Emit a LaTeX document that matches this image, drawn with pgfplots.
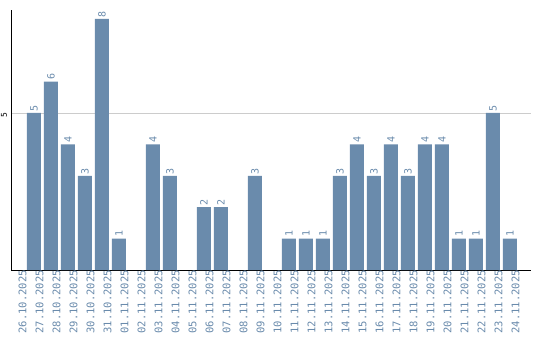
\documentclass[border=0pt]{standalone}
\usepackage{fontspec}
\setmainfont{DejaVu Sans Mono}
\usepackage{pgfplots}
\pgfplotsset{compat=1.18}
\definecolor{barc}{HTML}{6A8BAC}
\definecolor{gridc}{HTML}{CCCCCC}
\begin{document}
\begin{tikzpicture}
\useasboundingbox (-11bp,-70bp) rectangle (529bp,270bp);
\begin{axis}[
  scale only axis, width=520bp, height=260bp,
  anchor=south west, at={(0,0)},
  xmin=-0.35, xmax=30.24, ymin=0, ymax=8.28,
  axis x line=bottom, axis y line=left,
  axis line style={-, black, line width=0.8pt},
  xtick={0,...,29},
  xticklabels={26.10.2025,27.10.2025,28.10.2025,29.10.2025,30.10.2025,31.10.2025,01.11.2025,02.11.2025,03.11.2025,04.11.2025,05.11.2025,06.11.2025,07.11.2025,08.11.2025,09.11.2025,10.11.2025,11.11.2025,12.11.2025,13.11.2025,14.11.2025,15.11.2025,16.11.2025,17.11.2025,18.11.2025,19.11.2025,20.11.2025,21.11.2025,22.11.2025,23.11.2025,24.11.2025},
  xticklabel style={rotate=90, anchor=east, text=barc, font=\fontsize{10.5bp}{12bp}\selectfont, inner sep=0pt},
  xtick style={draw=none},
  major tick length=0pt,
  ytick={5},
  yticklabel style={rotate=90, anchor=south, font=\fontsize{8bp}{10bp}\selectfont, inner sep=1pt},
  ytick style={draw=none},
  ymajorgrids, grid style={gridc, line width=0.6pt},
  /pgf/number format/assume math mode=true,
  typeset ticklabels with strut=false,
  every x tick label/.append style={yshift=-7bp},
  every y tick label/.append style={xshift=-2bp},
  clip=false,
]
\addplot[ybar, bar width=14bp, fill=barc, draw=none,
  nodes near coords,
  every node near coord/.append style={rotate=90, anchor=west, text=barc, font=\fontsize{10bp}{12bp}\selectfont, inner sep=1.5pt}
] table {
x y
1 5
2 6
3 4
4 3
5 8
6 1
8 4
9 3
11 2
12 2
14 3
16 1
17 1
18 1
19 3
20 4
21 3
22 4
23 3
24 4
25 4
26 1
27 1
28 5
29 1
};
\end{axis}
\end{tikzpicture}
\end{document}
